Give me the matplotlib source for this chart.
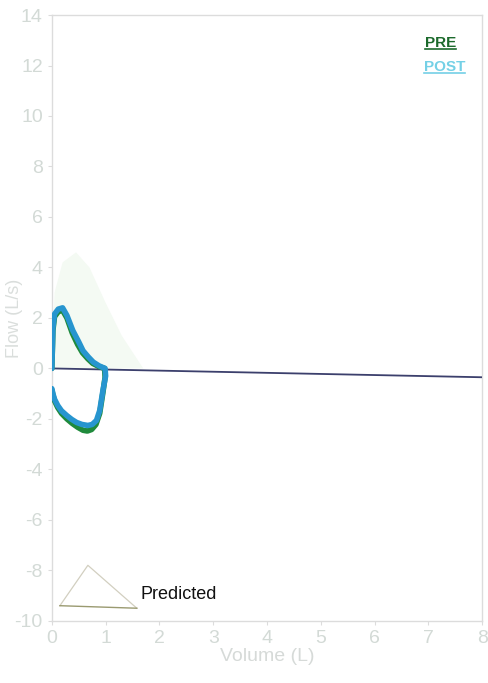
import matplotlib
matplotlib.use("Agg")
import matplotlib.pyplot as plt
from matplotlib.lines import Line2D

plt.rcParams["font.family"] = ["Liberation Sans", "DejaVu Sans"]
plt.rcParams["axes.unicode_minus"] = False

# flow-volume loops (L, L/s)
post_vol = [0.0, 0.02, 0.05, 0.12, 0.2, 0.28, 0.39, 0.5, 0.58, 0.68, 0.77, 0.88, 0.99,
            1.0, 0.95, 0.89, 0.83, 0.75, 0.67, 0.56, 0.46, 0.37, 0.28, 0.18, 0.11, 0.05, 0.02, 0.0]
post_flow = [0.0, 1.6, 2.15, 2.35, 2.4, 2.1, 1.5, 1.05, 0.7, 0.45, 0.25, 0.1, 0.0,
             -0.3, -0.87, -1.67, -2.06, -2.22, -2.26, -2.22, -2.14, -2.02, -1.87, -1.68, -1.47, -1.22, -1.0, -0.8]
pre_vol = [0.0, 0.02, 0.05, 0.12, 0.2, 0.28, 0.38, 0.48, 0.57, 0.67, 0.76, 0.87, 0.98,
           0.99, 0.95, 0.89, 0.82, 0.74, 0.66, 0.58, 0.48, 0.38, 0.28, 0.18, 0.11, 0.05, 0.02, 0.0]
pre_flow = [0.0, 1.5, 2.05, 2.25, 2.3, 2.0, 1.4, 0.95, 0.62, 0.38, 0.2, 0.08, 0.0,
            -0.35, -0.95, -1.78, -2.22, -2.42, -2.48, -2.45, -2.33, -2.18, -2.0, -1.78, -1.55, -1.28, -1.05, -0.85]

# faint predicted envelope
pred_vol = [0.0, 0.05, 0.2, 0.45, 0.7, 1.0, 1.3, 1.7]
pred_flow = [0.0, 3.0, 4.2, 4.6, 4.0, 2.6, 1.3, 0.0]

# baseline (scan is slightly tilted)
zero_vol = [0, 8]
zero_flow = [0.0, -0.35]

# "Predicted" key glyph
key_vol = [0.15, 0.67, 1.58]
key_flow = [-9.4, -7.8, -9.5]

xticks = list(range(0, 9))
yticks = list(range(-10, 15, 2))

tick_col = "#d3dad6"
spine_col = "#dcdcdc"

fig = plt.figure(figsize=(4.89, 6.83), dpi=100)
ax = fig.add_axes([0.106, 0.091, 0.88, 0.887])

ax.fill(pred_vol, pred_flow, color="#f4faf3", lw=0, zorder=1)
ax.plot(zero_vol, zero_flow, color="#3b3f6c", lw=1.3, zorder=3)
ax.plot(pre_vol, pre_flow, color="#1f8a3c", lw=4, solid_capstyle="round",
        solid_joinstyle="round", zorder=4)
ax.plot(post_vol, post_flow, color="#2795cf", lw=4, solid_capstyle="round",
        solid_joinstyle="round", zorder=5)

# predicted key
ax.plot([key_vol[0], key_vol[1], key_vol[2]], [key_flow[0], key_flow[1], key_flow[2]],
        color="#d2cfc0", lw=0.9, zorder=3)
ax.plot([key_vol[0], key_vol[2]], [key_flow[0], key_flow[2]], color="#9a9a70", lw=1.0, zorder=3)
ax.text(1.64, -8.97, "Predicted", fontsize=13, color="#111111", va="center", ha="left")

ax.set_xlim(0, 8)
ax.set_ylim(-10, 14)
ax.set_xticks(xticks)
ax.set_yticks(yticks)
ax.tick_params(colors=spine_col, labelcolor=tick_col, labelsize=14, length=3, width=0.8)
for s in ax.spines.values():
    s.set_color(spine_col)
    s.set_linewidth(1.0)
ax.set_xlabel("Volume (L)", fontsize=14, color="#d6dad8", labelpad=1)
ax.set_ylabel("Flow (L/s)", fontsize=13, color="#dadedc")
ax.yaxis.set_label_coords(-0.068, 0.5)

# underlined PRE / POST key
t_pre = fig.text(425 / 489, 1 - 47 / 683, "PRE", fontsize=11, fontweight="bold",
                 color="#1c6a2c", ha="left", va="baseline")
t_post = fig.text(424 / 489, 1 - 71 / 683, "POST", fontsize=11, fontweight="bold",
                  color="#74d0e6", ha="left", va="baseline")
fig.canvas.draw()
r = fig.canvas.get_renderer()
for t in (t_pre, t_post):
    bb = t.get_window_extent(r).transformed(fig.transFigure.inverted())
    y = bb.y0 + 0.001
    fig.add_artist(Line2D([bb.x0, bb.x1], [y, y], color=t.get_color(), lw=1.2,
                          transform=fig.transFigure))

fig.savefig("out.png", dpi=100, facecolor="white")
